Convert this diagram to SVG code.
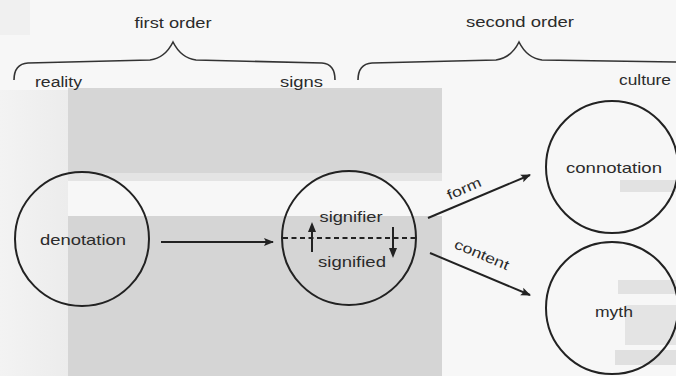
<svg xmlns="http://www.w3.org/2000/svg" width="676" height="376" viewBox="0 0 676 376">
<defs>
<marker id="ah" viewBox="0 0 10 10" refX="9" refY="5" markerWidth="10" markerHeight="10" markerUnits="userSpaceOnUse" orient="auto">
<path d="M0,1 L10,5 L0,9 L2,5 Z" fill="#222"/>
</marker>
<linearGradient id="bgL" x1="0" y1="0" x2="1" y2="0">
<stop offset="0" stop-color="#f3f3f3"/>
<stop offset="1" stop-color="#ececec"/>
</linearGradient>
</defs>
<style>
text{font-family:"Liberation Sans",Arial,sans-serif;fill:#2b2b2b;}
.lbl{font-size:14px;}
.node{font-size:15px;}
.circ{fill:none;stroke:#222;stroke-width:2;}
.brace{fill:none;stroke:#333;stroke-width:1.6;}
.line{fill:none;stroke:#222;stroke-width:2;}
.head{fill:#222;}
</style>
<g id="background">
<rect x="0" y="0" width="676" height="376" fill="#f7f7f7"/>
<rect x="0" y="90" width="68" height="286" fill="url(#bgL)"/>
<rect x="68" y="88" width="374" height="85" fill="#d6d6d6"/>
<rect x="68" y="173" width="374" height="8" fill="#e4e4e4"/>
<rect x="68" y="216" width="374" height="160" fill="#d5d5d5"/>
<rect x="0" y="0" width="30" height="35" fill="#ececec" opacity="0.7"/>
<rect x="620" y="180" width="56" height="12" fill="#e2e2e2"/>
<rect x="618" y="280" width="58" height="14" fill="#e2e2e2"/>
<rect x="625" y="305" width="51" height="40" fill="#e4e4e4"/>
<rect x="615" y="350" width="61" height="15" fill="#e0e0e0"/>
</g>
<g id="braces">
<path class="brace" d="M14,80 Q14,64 28,63 L150,60 Q165,58 173,42 Q181,58 196,60 L322,63 Q335,64 335,80"/>
<path class="brace" d="M358,80 Q358,64 372,63 L496,60 Q511,58 519,42 Q527,58 542,60 L676,62"/>
</g>
<g id="labels">
<text class="lbl" x="173" y="28" text-anchor="middle" textLength="77" lengthAdjust="spacingAndGlyphs">first order</text>
<text class="lbl" x="520" y="27" text-anchor="middle" textLength="108" lengthAdjust="spacingAndGlyphs">second order</text>
<text class="lbl" x="35" y="87" textLength="47" lengthAdjust="spacingAndGlyphs">reality</text>
<text class="lbl" x="280" y="87" textLength="43" lengthAdjust="spacingAndGlyphs">signs</text>
<text class="lbl" x="619" y="85" textLength="52" lengthAdjust="spacingAndGlyphs">culture</text>
</g>
<g id="denotation">
<circle class="circ" cx="82" cy="239" r="67"/>
<text class="node" x="83" y="245" text-anchor="middle" textLength="86" lengthAdjust="spacingAndGlyphs">denotation</text>
</g>
<g id="sign">
<circle class="circ" cx="349" cy="238" r="67"/>
<text class="node" x="351" y="222" text-anchor="middle" textLength="63" lengthAdjust="spacingAndGlyphs">signifier</text>
<text class="node" x="352" y="267" text-anchor="middle" textLength="68" lengthAdjust="spacingAndGlyphs">signified</text>
<line x1="283" y1="238" x2="415" y2="238" stroke="#222" stroke-width="2" stroke-dasharray="5,3.5"/>
<line class="line" x1="312" y1="252" x2="312" y2="230" stroke-width="1.6"/>
<polygon class="head" points="308,232 312,222 316,232"/>
<line class="line" x1="393" y1="227" x2="393" y2="250" stroke-width="1.6"/>
<polygon class="head" points="389,248 393,258 397,248"/>
</g>
<g id="connotation">
<circle class="circ" cx="612" cy="167" r="66"/>
<text class="node" x="614" y="173" text-anchor="middle" textLength="96" lengthAdjust="spacingAndGlyphs">connotation</text>
</g>
<g id="myth">
<circle class="circ" cx="612" cy="308" r="66"/>
<text class="node" x="614" y="317" text-anchor="middle" textLength="38" lengthAdjust="spacingAndGlyphs">myth</text>
</g>
<g id="connectors">
<line class="line" x1="161" y1="242" x2="273" y2="242" marker-end="url(#ah)"/>
<line class="line" x1="428" y1="218" x2="530" y2="175" marker-end="url(#ah)"/>
<line class="line" x1="430" y1="253" x2="530" y2="295" marker-end="url(#ah)"/>
<text class="lbl" transform="translate(466,193) rotate(-24)" text-anchor="middle" textLength="36" lengthAdjust="spacingAndGlyphs">form</text>
<text class="lbl" transform="translate(480,259) rotate(23)" text-anchor="middle" textLength="58" lengthAdjust="spacingAndGlyphs">content</text>
</g>
</svg>
